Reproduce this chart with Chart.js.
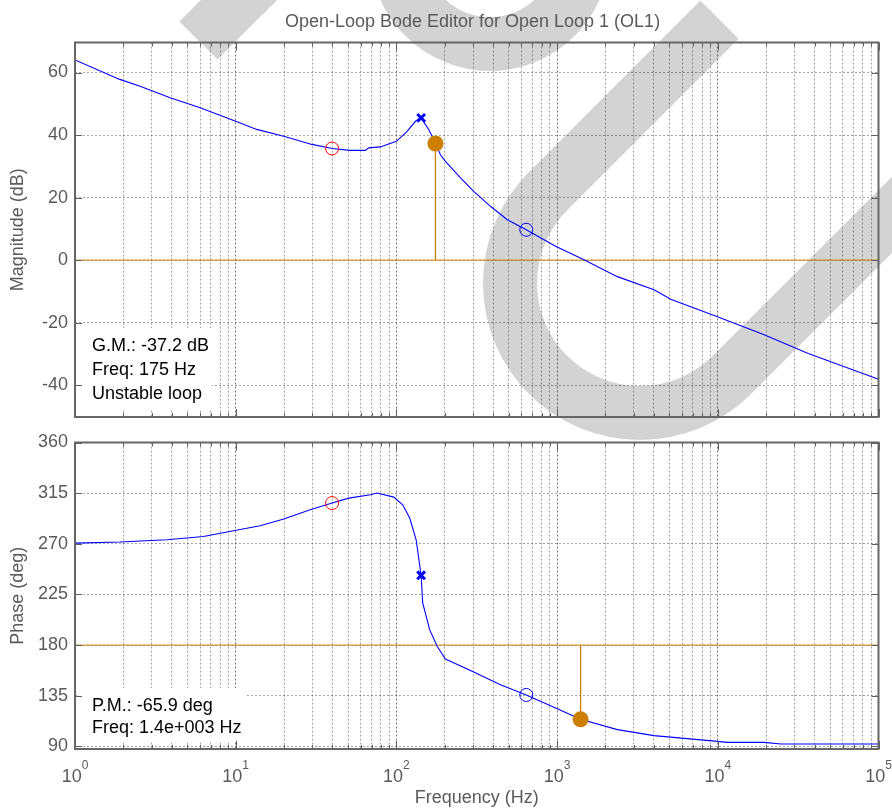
<!DOCTYPE html>
<html>
<head>
<meta charset="utf-8">
<script src="https://cdn.jsdelivr.net/npm/chart.js@4.4.1/dist/chart.umd.min.js"></script>
<style>
  html, body { margin: 0; padding: 0; background: #ffffff; }
  #wrap { position: relative; width: 892px; height: 812px; overflow: hidden; background: #ffffff; }
  #wm { position: absolute; left: 0; top: 0; }
  #c1 { position: absolute; left: 0; top: 0; }
  #c2 { position: absolute; left: 0; top: 430px; }
</style>
</head>
<body>
<div id="wrap">
  <canvas id="wm" width="892" height="812"></canvas>
  <canvas id="c1" width="892" height="430"></canvas>
  <canvas id="c2" width="892" height="382"></canvas>
</div>
<script>
// ---------------- data ----------------
const titleText = 'Open-Loop Bode Editor for Open Loop 1 (OL1)';

const magFreq = [1, 1.9, 2.54, 3.91, 6.01, 10, 13.5, 19.9, 29.8, 39.8, 51.7, 64.1, 67.2, 79.4, 100, 116.6, 131.3, 142.5, 158.8, 166.8, 175, 188, 202, 250.6, 303, 385, 490, 643, 979, 1469, 2371, 4009, 5093, 9950, 19440, 36220, 100000];
const magDb   = [64.0, 57.8, 55.6, 51.9, 48.7, 44.4, 41.8, 39.6, 37.0, 35.7, 35.1, 35.1, 35.9, 36.2, 38.0, 41.2, 44.4, 45.5, 41.8, 39.6, 37.3, 33.7, 31.6, 26.3, 22.0, 17.2, 12.9, 9.7, 4.4, 0.1, -5.3, -9.5, -12.5, -18.1, -23.9, -29.8, -38.1];

const phaseFreq = [1, 1.905, 3.73, 6.30, 9.69, 14.2, 19.9, 29.1, 39.8, 50.5, 68.9, 75.8, 96.2, 109.4, 121, 132.7, 142.5, 145.8, 161, 179.3, 201.9, 296, 444, 643, 979, 1400, 2371, 4009, 9950, 11480, 19440, 24700, 100000];
const phaseDeg  = [270.6, 271.6, 273.6, 276.5, 281.6, 286, 292, 300.2, 306.2, 310.6, 313.6, 315.1, 311.5, 304.7, 292.9, 273.6, 242, 217.4, 193.7, 178.9, 167.7, 156.7, 144.8, 135.7, 124.1, 114.1, 104.9, 99.6, 94.5, 93.6, 93.6, 92.2, 92.2];

// markers
const redCircleFreq = 39.8,  redCircleMag = 35.7,  redCirclePhase = 306.2;
const poleFreq = 142.5,      poleMag = 45.5,       polePhase = 242;
const blueCircleFreq = 643,  blueCircleMag = 9.7,  blueCirclePhase = 135.7;
const gmFreq = 175,          gmMag = 37.3;
const pmFreq = 1400,         pmPhase = 114.1;
const magRefLevel = 0;
const phaseRefLevel = 180;

// axes
const freqDecades = [0, 1, 2, 3, 4, 5];
const magTicks = [-40, -20, 0, 20, 40, 60];
const phaseTicks = [90, 135, 180, 225, 270, 315, 360];
const magRange = [-50.2, 69.6];
const phaseRange = [87.7, 360];

const gmLines = ['G.M.: -37.2 dB', 'Freq: 175 Hz', 'Unstable loop'];
const pmLines = ['P.M.: -65.9 deg', 'Freq: 1.4e+003 Hz'];

// ---------------- styles ----------------
const FONT = '"Liberation Sans", Arial, Helvetica, sans-serif';
const TXT = '#5a5a5a';
const BLUE = '#0000ff';
const ORANGE = '#cc7f00';
const ORANGE_REF = 'rgba(204,128,0,0.8)';

// ---------------- watermark (background decoration) ----------------
(function drawWatermark() {
  const c = document.getElementById('wm').getContext('2d');
  c.strokeStyle = '#d3d3d3';
  c.lineWidth = 54;
  c.lineCap = 'butt';
  c.beginPath();
  c.moveTo(719.5, 19.7);
  c.lineTo(548.1, 191.1);
  c.arc(640, 283, 130, 1.25 * Math.PI, 0.25 * Math.PI, true);
  c.lineTo(1031.9, 74.9);
  c.stroke();
  c.beginPath();
  c.arc(490, -49, 93, 0, 2 * Math.PI);
  c.stroke();
  c.beginPath();
  c.moveTo(198.5, 40.5);
  c.lineTo(330, -91);
  c.stroke();
})();

// ---------------- helpers ----------------
const gridFreqs = [];
for (let i = 0; i < freqDecades.length - 1; i++) {
  for (let m = 1; m < 10; m++) gridFreqs.push({ value: m * Math.pow(10, freqDecades[i]), major: m === 1 });
}
gridFreqs.push({ value: Math.pow(10, freqDecades[freqDecades.length - 1]), major: true });

const pts = (xs, ys) => xs.map((x, i) => ({ x: x, y: ys[i] }));

function xScaleCfg(height, withTitle) {
  return {
    type: 'logarithmic',
    min: Math.pow(10, freqDecades[0]),
    max: Math.pow(10, freqDecades[freqDecades.length - 1]),
    afterBuildTicks: ax => { ax.ticks = gridFreqs.map(t => ({ value: t.value, major: t.major })); },
    ticks: { display: false, autoSkip: false },
    grid: {
      drawTicks: false,
      lineWidth: 1,
      color: c => (c.tick && c.tick.major) ? 'rgba(0,0,0,0.55)' : 'rgba(0,0,0,0.36)'
    },
    border: { display: false, dash: [2, 2] },
    title: withTitle ? {
      display: true, text: 'Frequency (Hz)', color: TXT,
      font: { family: FONT, size: 18 }, padding: { top: 0, bottom: 3 }
    } : { display: false },
    afterFit: ax => { ax.height = height; ax.paddingLeft = 0; ax.paddingRight = 0; }
  };
}

function yScaleCfg(range, ticks, label) {
  return {
    type: 'linear',
    min: range[0], max: range[1],
    afterBuildTicks: ax => { ax.ticks = ticks.map(v => ({ value: v })); },
    ticks: { color: TXT, font: { family: FONT, size: 18 }, padding: 7, autoSkip: false },
    grid: { drawTicks: false, lineWidth: 1, color: 'rgba(0,0,0,0.36)' },
    border: { display: false, dash: [2, 2] },
    title: { display: true, text: label, color: TXT, font: { family: FONT, size: 18 }, padding: { top: 7, bottom: 0 } },
    afterFit: ax => { ax.width = 75; ax.paddingTop = 0; ax.paddingBottom = 0; }
  };
}

const frameTicksPlugin = {
  id: 'frameTicks',
  afterDraw(chart) {
    const { ctx, chartArea: a, scales: { x, y } } = chart;
    ctx.save();
    ctx.strokeStyle = '#5f5f5f';
    ctx.lineWidth = 1;
    ctx.beginPath();
    x.ticks.forEach(t => {
      const px = Math.round(x.getPixelForValue(t.value)) + 0.5;
      const len = t.major ? 8 : 4;
      ctx.moveTo(px, a.top); ctx.lineTo(px, a.top + len);
      ctx.moveTo(px, a.bottom); ctx.lineTo(px, a.bottom - len);
    });
    y.ticks.forEach(t => {
      const py = Math.round(y.getPixelForValue(t.value)) + 0.5;
      ctx.moveTo(a.left, py); ctx.lineTo(a.left + 7, py);
      ctx.moveTo(a.right, py); ctx.lineTo(a.right - 7, py);
    });
    ctx.stroke();
    ctx.lineWidth = 2;
    ctx.strokeStyle = '#666666';
    ctx.strokeRect(a.left, a.top, a.right - a.left, a.bottom - a.top);
    ctx.restore();
  }
};

function textBoxPlugin(id, lines, rect, firstBaseline, lineStep) {
  return {
    id: id,
    afterDraw(chart) {
      const ctx = chart.ctx;
      ctx.save();
      ctx.fillStyle = '#ffffff';
      ctx.fillRect(rect[0], rect[1], rect[2], rect[3]);
      ctx.fillStyle = '#000000';
      ctx.font = '18px ' + FONT;
      ctx.textAlign = 'left';
      ctx.textBaseline = 'alphabetic';
      lines.forEach((s, i) => ctx.fillText(s, rect[0] + 15, firstBaseline + i * lineStep));
      ctx.restore();
    }
  };
}

const titlePlugin = {
  id: 'figTitle',
  afterDraw(chart) {
    const ctx = chart.ctx;
    ctx.save();
    ctx.fillStyle = TXT;
    ctx.font = '18px ' + FONT;
    ctx.textAlign = 'center';
    ctx.textBaseline = 'alphabetic';
    ctx.fillText(titleText, 472.5, 27);
    ctx.restore();
  }
};

const xLabelPlugin = {
  id: 'xPowLabels',
  afterDraw(chart) {
    const { ctx, scales: { x } } = chart;
    ctx.save();
    ctx.fillStyle = TXT;
    ctx.textAlign = 'left';
    ctx.textBaseline = 'alphabetic';
    freqDecades.forEach(e => {
      const px = x.getPixelForValue(Math.pow(10, e));
      ctx.font = '18px ' + FONT;
      const w1 = ctx.measureText('10').width;
      ctx.font = '12px ' + FONT;
      const w2 = ctx.measureText(String(e)).width;
      const x0 = px - (w1 + w2) / 2;
      ctx.font = '18px ' + FONT;
      ctx.fillText('10', x0, 352);
      ctx.font = '12px ' + FONT;
      ctx.fillText(String(e), x0 + w1, 339);
    });
    ctx.restore();
  }
};

const common = {
  responsive: false,
  animation: false,
  devicePixelRatio: 1,
  plugins: { legend: { display: false }, tooltip: { enabled: false }, title: { display: false } },
  elements: { line: { tension: 0 } }
};

// ---------------- magnitude chart ----------------
new Chart(document.getElementById('c1'), {
  type: 'line',
  data: {
    datasets: [
      { data: [{ x: gmFreq, y: gmMag }], showLine: false, pointRadius: 8, pointBackgroundColor: ORANGE, pointBorderColor: ORANGE, pointBorderWidth: 0 },
      { data: [{ x: redCircleFreq, y: redCircleMag }], showLine: false, pointRadius: 6.5, pointBackgroundColor: 'rgba(0,0,0,0)', pointBorderColor: '#ff0000', pointBorderWidth: 1 },
      { data: [{ x: blueCircleFreq, y: blueCircleMag }], showLine: false, pointRadius: 6.5, pointBackgroundColor: 'rgba(0,0,0,0)', pointBorderColor: BLUE, pointBorderWidth: 1 },
      { data: [{ x: poleFreq, y: poleMag }], showLine: false, pointStyle: 'crossRot', pointRadius: 5.5, pointBorderColor: BLUE, pointBorderWidth: 3 },
      { data: pts(magFreq, magDb), borderColor: BLUE, borderWidth: 1.1, pointRadius: 0, fill: false },
      { data: [{ x: gmFreq, y: magRefLevel }, { x: gmFreq, y: gmMag }], borderColor: ORANGE, borderWidth: 1.3, pointRadius: 0 },
      { data: [{ x: Math.pow(10, freqDecades[0]), y: magRefLevel }, { x: Math.pow(10, freqDecades[freqDecades.length - 1]), y: magRefLevel }], borderColor: ORANGE_REF, borderWidth: 1.2, pointRadius: 0 }
    ]
  },
  options: Object.assign({}, common, {
    layout: { padding: { left: 0, right: 13.5, top: 42.5, bottom: 13 } },
    scales: { x: xScaleCfg(0, false), y: yScaleCfg(magRange, magTicks, 'Magnitude (dB)') }
  }),
  plugins: [textBoxPlugin('gmBox', gmLines, [77, 328, 135, 81], 350.7, 24.2), frameTicksPlugin, titlePlugin]
});

// ---------------- phase chart ----------------
new Chart(document.getElementById('c2'), {
  type: 'line',
  data: {
    datasets: [
      { data: [{ x: pmFreq, y: pmPhase }], showLine: false, pointRadius: 8, pointBackgroundColor: ORANGE, pointBorderColor: ORANGE, pointBorderWidth: 0 },
      { data: [{ x: redCircleFreq, y: redCirclePhase }], showLine: false, pointRadius: 6.5, pointBackgroundColor: 'rgba(0,0,0,0)', pointBorderColor: '#ff0000', pointBorderWidth: 1 },
      { data: [{ x: blueCircleFreq, y: blueCirclePhase }], showLine: false, pointRadius: 6.5, pointBackgroundColor: 'rgba(0,0,0,0)', pointBorderColor: BLUE, pointBorderWidth: 1 },
      { data: [{ x: poleFreq, y: polePhase }], showLine: false, pointStyle: 'crossRot', pointRadius: 5.5, pointBorderColor: BLUE, pointBorderWidth: 3 },
      { data: pts(phaseFreq, phaseDeg), borderColor: BLUE, borderWidth: 1.1, pointRadius: 0, fill: false },
      { data: [{ x: pmFreq, y: phaseRefLevel }, { x: pmFreq, y: pmPhase }], borderColor: ORANGE, borderWidth: 1.3, pointRadius: 0 },
      { data: [{ x: Math.pow(10, freqDecades[0]), y: phaseRefLevel }, { x: Math.pow(10, freqDecades[freqDecades.length - 1]), y: phaseRefLevel }], borderColor: ORANGE_REF, borderWidth: 1.2, pointRadius: 0 }
    ]
  },
  options: Object.assign({}, common, {
    layout: { padding: { left: 0, right: 13.5, top: 12.5, bottom: 0 } },
    scales: { x: xScaleCfg(63, true), y: yScaleCfg(phaseRange, phaseTicks, 'Phase (deg)') }
  }),
  plugins: [textBoxPlugin('pmBox', pmLines, [77, 258, 170, 54], 280.7, 22.6), frameTicksPlugin, xLabelPlugin]
});
</script>
</body>
</html>
